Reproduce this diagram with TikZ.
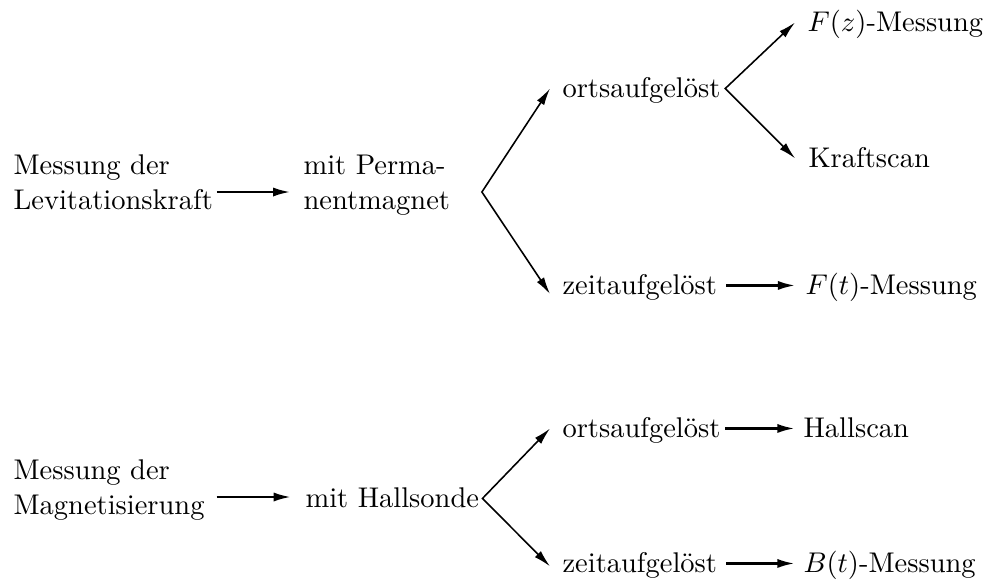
\documentclass[tikz,border=0pt]{standalone}
\usetikzlibrary{arrows.meta}
\begin{document}
\begin{tikzpicture}[x=.351pt,y=-.351pt,
    txt/.style={inner sep=0pt,anchor=base west,text height=7pt,text depth=1pt},
    zwei/.style={inner sep=0pt,anchor=west,align=left,text height=19pt,text depth=7pt},
    pfeil/.style={line width=.8pt,-{Latex[length=6pt,width=3.2pt]}},
    ast/.style={line width=.55pt,{Latex[length=6pt,width=3pt]}-{Latex[length=6pt,width=3pt]}}]
    \useasboundingbox (0,0) rectangle (990,581);
    \node[zwei] (lev) at (13,192) {Messung der\\Levitationskraft};
    \node[zwei] (perm) at (303,192) {mit Perma-\\nentmagnet};
    \node[txt] (ort1) at (562,97) {ortsaufgel\"ost};
    \node[txt] (zeit1) at (562,294) {zeitaufgel\"ost};
    \node[txt] (fz) at (807,31) {$F(z)$-Messung};
    \node[txt] (kraft) at (808,167) {Kraftscan};
    \node[txt] (ft) at (805,294) {$F(t)$-Messung};
    \node[zwei] (mag) at (13,497) {Messung der\\Magnetisierung};
    \node[txt] (hall) at (305,507) {mit Hallsonde};
    \node[txt] (ort2) at (562,437) {ortsaufgel\"ost};
    \node[txt] (zeit2) at (562,572) {zeitaufgel\"ost};
    \node[txt] (hscan) at (803,437) {Hallscan};
    \node[txt] (bt) at (803,572) {$B(t)$-Messung};
    \coordinate (g1) at ([xshift=11pt]perm.east);
    \coordinate (g2) at ([xshift=1pt]hall.east);
    \draw[pfeil] ([xshift=1.2pt]lev.east) -- ([xshift=-4.5pt]perm.west);
    \draw[ast] ([xshift=-4.2pt]ort1.west) -- (g1) -- ([xshift=-4.2pt,yshift=-3pt]zeit1.west);
    \draw[ast] ([xshift=-4.2pt]fz.west) -- ([xshift=1.5pt]ort1.east) -- ([xshift=-4.5pt]kraft.west);
    \draw[pfeil] ([xshift=3pt]zeit1.east) -- ([xshift=-3.5pt]ft.west);
    \draw[pfeil] ([xshift=4pt]mag.east) -- ([xshift=-5pt]hall.west |- mag.east);
    \draw[ast] ([xshift=-4.2pt]ort2.west) -- (g2) -- ([xshift=-4.2pt,yshift=-1pt]zeit2.west);
    \draw[pfeil] ([xshift=1.5pt]ort2.east) -- ([xshift=-3pt]hscan.west);
    \draw[pfeil] ([xshift=3pt]zeit2.east) -- ([xshift=-3pt]bt.west);
\end{tikzpicture}
\end{document}
